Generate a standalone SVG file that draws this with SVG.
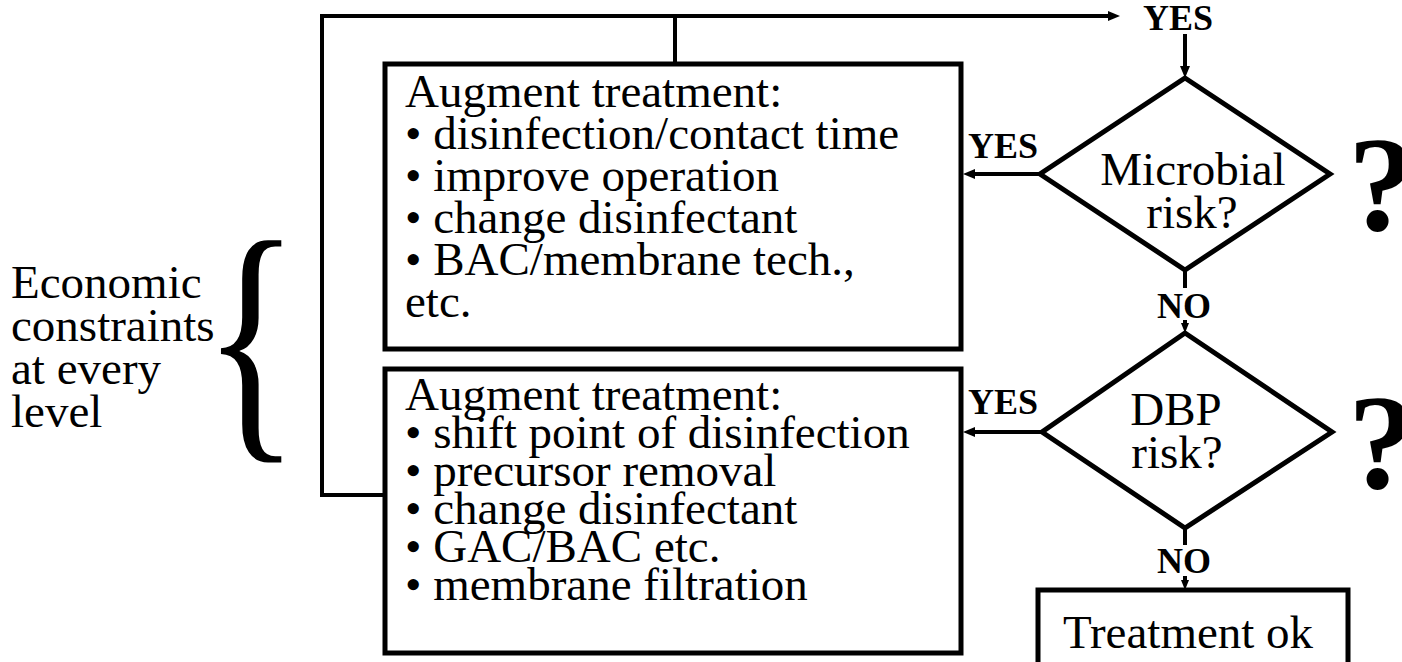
<svg xmlns="http://www.w3.org/2000/svg" width="1402" height="662" viewBox="0 0 1402 662">
<style>
.t{font-family:"Liberation Serif","Times New Roman",serif;font-size:47px;fill:#000}
.b{font-family:"Liberation Serif","Times New Roman",serif;font-size:36px;font-weight:bold;fill:#000}
.q{font-family:"Liberation Serif","Times New Roman",serif;font-size:136px;font-weight:bold;fill:#000}
.box{fill:#fff;stroke:#000;stroke-width:5}
.con{fill:none;stroke:#000;stroke-width:4}
</style>
<defs>
<marker id="ah" markerUnits="userSpaceOnUse" markerWidth="12" markerHeight="12" refX="6" refY="6" orient="auto">
<path d="M0,1 L12,6 L0,11 z" fill="#000"/>
</marker>
<marker id="as" markerUnits="userSpaceOnUse" markerWidth="10" markerHeight="10" refX="5" refY="5" orient="auto">
<path d="M0,1 L10,5 L0,9 z" fill="#000"/>
</marker>
</defs>
<rect width="1402" height="662" fill="#fff"/>

<g id="connectors">
<path class="con" d="M385,495 H322 V16 H1114" marker-end="url(#ah)"/>
<path class="con" d="M675,64 V16"/>
<path class="con" d="M1185,34 V72" marker-end="url(#ah)"/>
<path class="con" d="M1040,174 H969" marker-end="url(#ah)"/>
<path class="con" d="M1185,270 V288"/>
<path class="con" d="M1185,320 V328" marker-end="url(#as)"/>
<path class="con" d="M1042,432 H969" marker-end="url(#ah)"/>
<path class="con" d="M1185,528 V545"/>
<path class="con" d="M1185,576 V585" marker-end="url(#as)"/>
<text class="b" x="1143" y="30">YES</text>
<text class="b" x="968" y="158">YES</text>
<text class="b" x="968" y="414">YES</text>
<text class="b" x="1157" y="318">NO</text>
<text class="b" x="1157" y="573">NO</text>
</g>

<g id="constraints">
<text class="t"><tspan x="11" y="298">Economic</tspan><tspan x="11" y="341">constraints</tspan><tspan x="11" y="384">at every</tspan><tspan x="11" y="427">level</tspan></text>
<text class="t" transform="translate(202.6,426.5) scale(0.79,1.048)" x="0" y="0" style="font-size:256px">{</text>
</g>

<g id="box1">
<rect class="box" x="385" y="64" width="576" height="285"/>
<text class="t"><tspan x="405" y="107">Augment treatment:</tspan><tspan x="405" y="149">• disinfection/contact time</tspan><tspan x="405" y="191">• improve operation</tspan><tspan x="405" y="233">• change disinfectant</tspan><tspan x="405" y="275">• BAC/membrane tech.,</tspan><tspan x="405" y="317">etc.</tspan></text>
</g>

<g id="box2">
<rect class="box" x="385" y="369" width="576" height="284"/>
<text class="t"><tspan x="405" y="410">Augment treatment:</tspan><tspan x="405" y="448">• shift point of disinfection</tspan><tspan x="405" y="486">• precursor removal</tspan><tspan x="405" y="524">• change disinfectant</tspan><tspan x="405" y="562">• GAC/BAC etc.</tspan><tspan x="405" y="600">• membrane filtration</tspan></text>
</g>

<g id="microbial">
<polygon class="box" points="1185,78 1330,174 1185,270 1040,174"/>
<text class="t" text-anchor="middle"><tspan x="1193" y="185">Microbial</tspan><tspan x="1192" y="228">risk?</tspan></text>
<text class="q" x="1348" y="230">?</text>
</g>

<g id="dbp">
<polygon class="box" points="1185,333 1332,432 1185,528 1042,432"/>
<text class="t" text-anchor="middle"><tspan x="1176" y="425">DBP</tspan><tspan x="1177" y="468">risk?</tspan></text>
<text class="q" x="1348" y="488">?</text>
</g>

<g id="treatment-ok">
<rect class="box" x="1038" y="590" width="310" height="110"/>
<text class="t" text-anchor="middle" x="1188" y="648">Treatment ok</text>
</g>
</svg>
